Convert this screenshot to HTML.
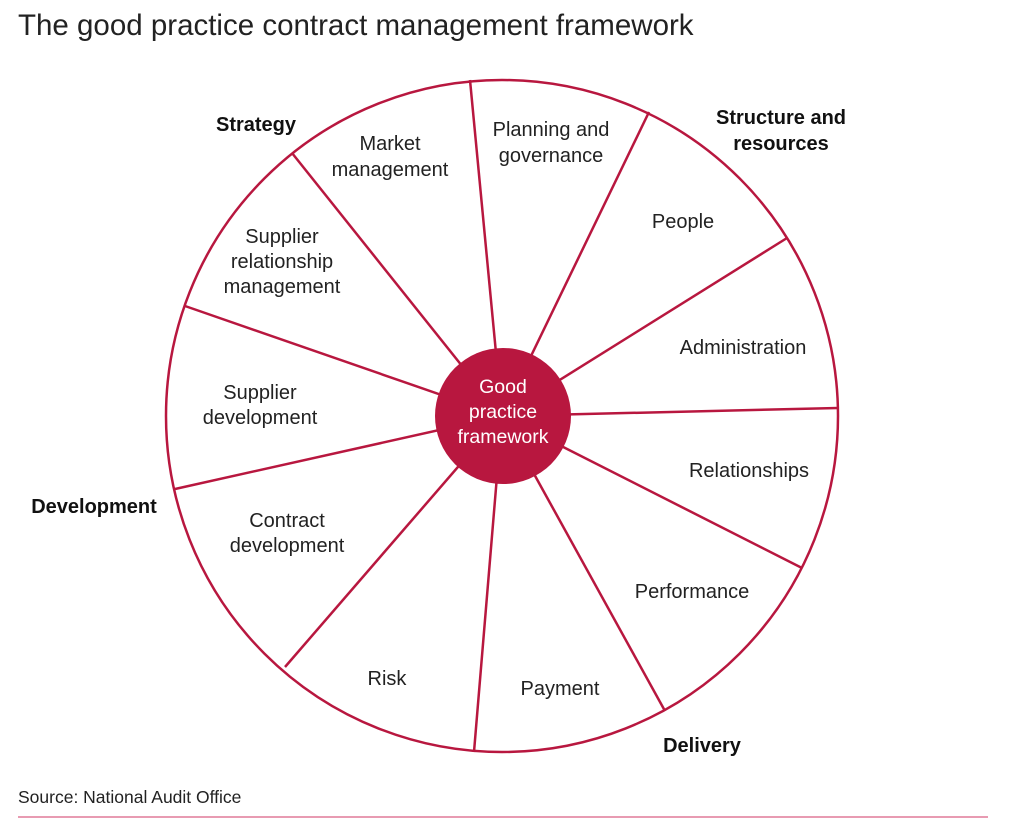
<!DOCTYPE html>
<html><head><meta charset="utf-8"><style>
html,body{margin:0;padding:0;background:#fff;}
body{width:1024px;height:839px;position:relative;overflow:hidden;font-family:"Liberation Sans",sans-serif;}
</style></head><body>
<svg width="1024" height="839" viewBox="0 0 1024 839" xmlns="http://www.w3.org/2000/svg" style="position:absolute;left:0;top:0">
<text x="18" y="35" font-size="29.5" fill="#222" font-family="Liberation Sans, sans-serif">The good practice contract management framework</text>
<g stroke="#b8173f" stroke-width="2.5" fill="none">
<circle cx="502" cy="416" r="336"/>
<line x1="502" y1="416" x2="470" y2="80"/>
<line x1="502" y1="416" x2="649" y2="112"/>
<line x1="502" y1="416" x2="787" y2="238"/>
<line x1="502" y1="416" x2="838" y2="408"/>
<line x1="502" y1="416" x2="802" y2="568"/>
<line x1="502" y1="416" x2="665" y2="711"/>
<line x1="502" y1="416" x2="474" y2="752"/>
<line x1="502" y1="416" x2="285" y2="667"/>
<line x1="502" y1="416" x2="175" y2="489"/>
<line x1="502" y1="416" x2="185" y2="306"/>
<line x1="502" y1="416" x2="292" y2="153"/>
</g>
<circle cx="503" cy="416" r="68" fill="#b8173f"/>
<g font-size="19.5" fill="#fff" text-anchor="middle" font-family="Liberation Sans, sans-serif">
<text x="503" y="393">Good</text><text x="503" y="418">practice</text><text x="503" y="443">framework</text>
</g>
<g font-size="20" fill="#222" text-anchor="middle" font-family="Liberation Sans, sans-serif">
<text x="390" y="150">Market</text><text x="390" y="176">management</text>
<text x="551" y="136">Planning and</text><text x="551" y="162">governance</text>
<text x="683" y="228">People</text>
<text x="743" y="354">Administration</text>
<text x="749" y="477">Relationships</text>
<text x="692" y="598">Performance</text>
<text x="560" y="695">Payment</text>
<text x="387" y="685">Risk</text>
<text x="287" y="527">Contract</text><text x="287" y="552">development</text>
<text x="260" y="399">Supplier</text><text x="260" y="424">development</text>
<text x="282" y="243">Supplier</text><text x="282" y="268">relationship</text><text x="282" y="293">management</text>
</g>
<g font-size="20" font-weight="bold" fill="#111" font-family="Liberation Sans, sans-serif">
<text x="256" y="131" text-anchor="middle">Strategy</text>
<text x="781" y="124" text-anchor="middle">Structure and</text><text x="781" y="150" text-anchor="middle">resources</text>
<text x="94" y="513" text-anchor="middle">Development</text>
<text x="702" y="752" text-anchor="middle">Delivery</text>
</g>
<text x="18" y="803" font-size="17.5" fill="#222" font-family="Liberation Sans, sans-serif">Source: National Audit Office</text>
<line x1="18" y1="817" x2="988" y2="817" stroke="#e07a98" stroke-width="1.5"/>
</svg>
</body></html>
